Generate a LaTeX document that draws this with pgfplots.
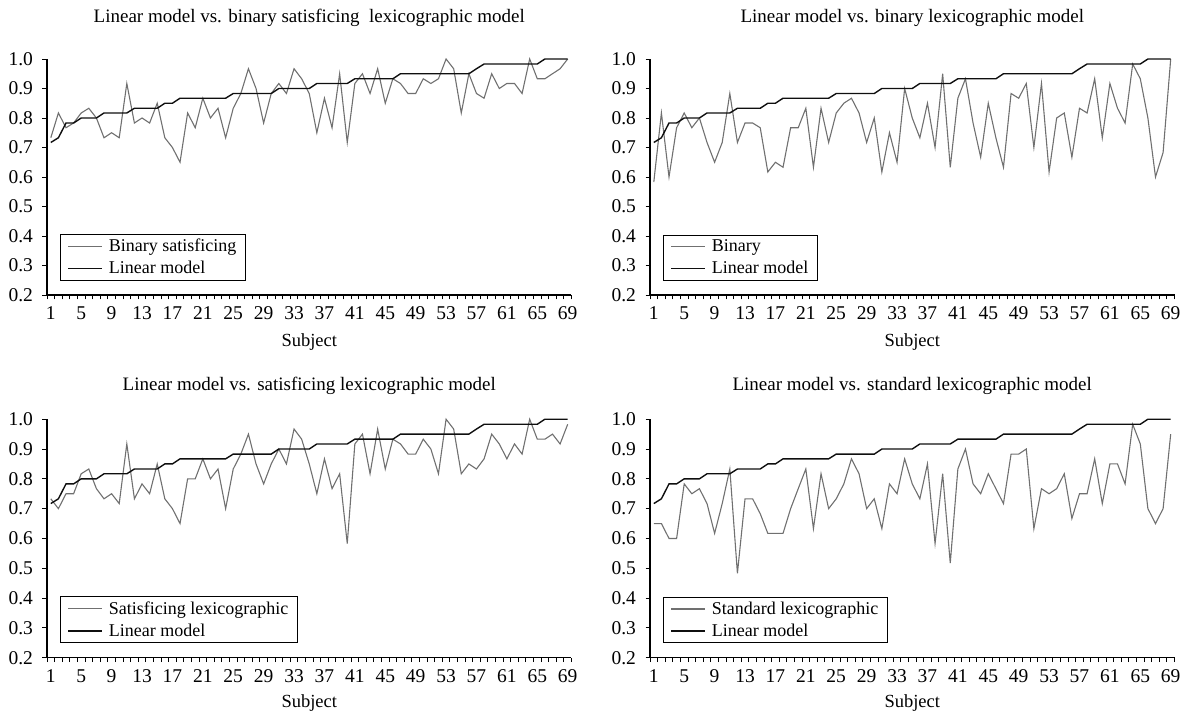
\documentclass[border=0pt]{standalone}
\usepackage{fontspec}
\setmainfont{Liberation Serif}
\usepackage{pgfplots}
\pgfplotsset{compat=1.18}
\usepackage{pgfplotstable}
\definecolor{lgray}{RGB}{112,112,112}
\definecolor{lblack}{RGB}{15,15,15}

\pgfplotstableread{
x lin bs bin sl std
1 0.717 0.733 0.583 0.733 0.650
2 0.733 0.817 0.817 0.700 0.650
3 0.783 0.767 0.600 0.750 0.600
4 0.783 0.783 0.767 0.750 0.600
5 0.800 0.817 0.817 0.817 0.783
6 0.800 0.833 0.767 0.833 0.750
7 0.800 0.800 0.800 0.767 0.767
8 0.817 0.733 0.717 0.733 0.717
9 0.817 0.750 0.650 0.750 0.617
10 0.817 0.733 0.717 0.717 0.717
11 0.817 0.917 0.883 0.917 0.833
12 0.833 0.783 0.717 0.733 0.483
13 0.833 0.800 0.783 0.783 0.733
14 0.833 0.783 0.783 0.750 0.733
15 0.833 0.850 0.767 0.850 0.683
16 0.850 0.733 0.617 0.733 0.617
17 0.850 0.700 0.650 0.700 0.617
18 0.867 0.650 0.633 0.650 0.617
19 0.867 0.817 0.767 0.800 0.700
20 0.867 0.767 0.767 0.800 0.767
21 0.867 0.867 0.833 0.867 0.833
22 0.867 0.800 0.633 0.800 0.633
23 0.867 0.833 0.833 0.833 0.817
24 0.867 0.733 0.717 0.700 0.700
25 0.883 0.833 0.817 0.833 0.733
26 0.883 0.883 0.850 0.883 0.783
27 0.883 0.967 0.867 0.950 0.867
28 0.883 0.900 0.817 0.850 0.817
29 0.883 0.783 0.717 0.783 0.700
30 0.883 0.883 0.800 0.850 0.733
31 0.900 0.917 0.617 0.900 0.633
32 0.900 0.883 0.750 0.850 0.783
33 0.900 0.967 0.650 0.967 0.750
34 0.900 0.933 0.900 0.933 0.867
35 0.900 0.883 0.800 0.850 0.783
36 0.917 0.750 0.733 0.750 0.733
37 0.917 0.867 0.850 0.867 0.850
38 0.917 0.767 0.700 0.767 0.583
39 0.917 0.950 0.950 0.817 0.817
40 0.917 0.717 0.633 0.583 0.517
41 0.933 0.917 0.867 0.917 0.833
42 0.933 0.950 0.933 0.950 0.900
43 0.933 0.883 0.783 0.817 0.783
44 0.933 0.967 0.667 0.967 0.750
45 0.933 0.850 0.850 0.833 0.817
46 0.933 0.933 0.733 0.933 0.767
47 0.950 0.917 0.633 0.917 0.717
48 0.950 0.883 0.883 0.883 0.883
49 0.950 0.883 0.867 0.883 0.883
50 0.950 0.933 0.917 0.933 0.900
51 0.950 0.917 0.700 0.900 0.633
52 0.950 0.933 0.917 0.817 0.767
53 0.950 1.000 0.617 1.000 0.750
54 0.950 0.967 0.800 0.967 0.767
55 0.950 0.817 0.817 0.817 0.817
56 0.950 0.950 0.667 0.850 0.667
57 0.967 0.883 0.833 0.833 0.750
58 0.983 0.867 0.817 0.867 0.750
59 0.983 0.950 0.933 0.950 0.867
60 0.983 0.900 0.733 0.917 0.717
61 0.983 0.917 0.917 0.867 0.850
62 0.983 0.917 0.833 0.917 0.850
63 0.983 0.883 0.783 0.883 0.783
64 0.983 1.000 0.983 1.000 0.983
65 0.983 0.933 0.933 0.933 0.917
66 1.000 0.933 0.800 0.933 0.700
67 1.000 0.950 0.600 0.950 0.650
68 1.000 0.967 0.683 0.917 0.700
69 1.000 1.000 1.000 0.983 0.950
}\data

\pgfplotsset{
  panel/.style={
    scale only axis,
    width=524.5pt,
    xmin=0.5, xmax=69.5, ymin=0.2, ymax=1.0,
    axis lines*=left,
    axis line style={line width=1.1pt, black},
    tick align=outside,
    tick style={line width=0.9pt, black},
    major tick length=4.5pt,
    xtick={0.5,1.5,...,69.5},
    xticklabels={1,,,,5,,,,9,,,,13,,,,17,,,,21,,,,25,,,,29,,,,33,,,,37,,,,41,,,,45,,,,49,,,,53,,,,57,,,,61,,,,65,,,,69,},
    xticklabel style={xshift=3.8pt, yshift=-4pt},
    ytick={0.2,0.3,0.4,0.5,0.6,0.7,0.8,0.9,1.0},
    yticklabels={0.2,0.3,0.4,0.5,0.6,0.7,0.8,0.9,1.0},
    yticklabel style={xshift=-6pt},
    tick label style={font=\fontsize{19.5}{19.5}\selectfont},
    xlabel={Subject},
    xlabel style={at={(axis description cs:0.5,0)}, anchor=base, yshift=-52pt, font=\fontsize{18.5}{19}\selectfont},
    title style={at={(axis description cs:0.5,1)}, anchor=base, font=\fontsize{19}{20}\selectfont},
    legend style={at={(0.025,0.06)}, anchor=south west, draw=black, line width=0.9pt,
      font=\fontsize{18}{20}\selectfont, inner xsep=7pt, inner ysep=3pt, row sep=4pt,
      cells={anchor=west}, /tikz/every odd column/.append style={column sep=4pt}},
    legend image code/.code={\draw[#1] (0pt,0pt) -- (34pt,0pt);},
    clip=false,
  },
  gr/.style={color=lgray, line width=1.1pt, mark=none},
  bk/.style={color=lblack, line width=1.4pt, mark=none},
}

\begin{document}
\begin{tikzpicture}[x=1pt,y=1pt]
\path[use as bounding box] (0,0) rectangle (1182,715);

\begin{axis}[panel, at={(47pt,420pt)}, anchor=south west, height=236pt,
  title={Linear model vs. binary satisficing\ \ lexicographic model}, title style={yshift=30pt}]
\addplot[gr] table[x=x,y=bs]{\data};
\addlegendentry{Binary satisficing}
\addplot[bk] table[x=x,y=lin]{\data};
\addlegendentry{Linear model}
\end{axis}

\begin{axis}[panel, at={(650pt,420pt)}, anchor=south west, height=236pt,
  title={Linear model vs. binary lexicographic model}, title style={yshift=30pt}]
\addplot[gr] table[x=x,y=bin]{\data};
\addlegendentry{Binary}
\addplot[bk] table[x=x,y=lin]{\data};
\addlegendentry{Linear model}
\end{axis}

\begin{axis}[panel, at={(47pt,57.3pt)}, anchor=south west, height=238.5pt,
  title={Linear model vs. satisficing lexicographic model}, title style={yshift=23pt}, xlabel style={yshift=2pt}]
\addplot[gr] table[x=x,y=sl]{\data};
\addlegendentry{Satisficing lexicographic}
\addplot[bk] table[x=x,y=lin]{\data};
\addlegendentry{Linear model}
\end{axis}

\begin{axis}[panel, at={(650pt,57.3pt)}, anchor=south west, height=238.5pt,
  title={Linear model vs. standard lexicographic model}, title style={yshift=23pt}, xlabel style={yshift=2pt}]
\addplot[gr] table[x=x,y=std]{\data};
\addlegendentry{Standard lexicographic}
\addplot[bk] table[x=x,y=lin]{\data};
\addlegendentry{Linear model}
\end{axis}
\end{tikzpicture}
\end{document}
